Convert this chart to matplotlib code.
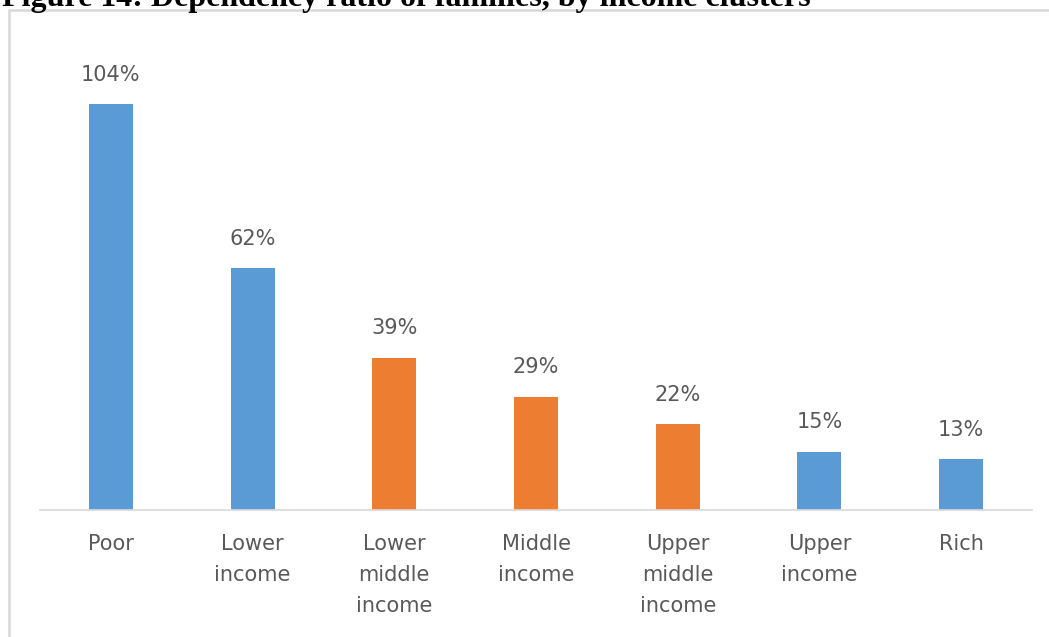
import matplotlib
matplotlib.use("Agg")
import matplotlib.pyplot as plt
from matplotlib.patches import Rectangle

categories = ["Poor", "Lower\nincome", "Lower\nmiddle\nincome", "Middle\nincome",
              "Upper\nmiddle\nincome", "Upper\nincome", "Rich"]
values = [104, 62, 39, 29, 22, 15, 13]
bar_colors = ["#5B9BD5", "#5B9BD5", "#ED7D31", "#ED7D31", "#ED7D31", "#5B9BD5", "#5B9BD5"]
title = "Figure 14: Dependency ratio of families, by income clusters"

W, H = 1049, 637
fig = plt.figure(figsize=(W / 100, H / 100), dpi=100)

# outer frame (top and left visible)
fig.add_artist(Rectangle((9 / W, -0.1), 1.2, (H - 10) / H + 0.1, transform=fig.transFigure,
                         fill=False, edgecolor="#d9d9d9", linewidth=1.8))

fig.text(2 / W, (H - 6) / H, title, fontsize=23, fontweight="bold",
         family="Liberation Serif", va="baseline", ha="left", color="black")

base_y = 510
top_y = 40
ax = fig.add_axes([40 / W, (H - base_y) / H, 992 / W, (base_y - top_y) / H])
x = list(range(len(categories)))
ax.bar(x, values, width=0.31, color=bar_colors, zorder=2)
ax.set_xlim(-0.5, len(categories) - 0.5)
ax.set_ylim(0, (base_y - top_y) / 3.9)
for xi, v in zip(x, values):
    ax.annotate(f"{v}%", (xi, v), xytext=(0, 14), textcoords="offset points",
                ha="center", va="bottom", fontsize=15, color="#595959")
ax.set_xticks(x)
ax.set_xticklabels(categories, fontsize=15, color="#595959", linespacing=1.7)
ax.tick_params(axis="x", length=0, pad=17)
ax.set_yticks([])
for s in ["top", "right", "left"]:
    ax.spines[s].set_visible(False)
ax.spines["bottom"].set_color("#d9d9d9")
ax.spines["bottom"].set_linewidth(1.2)
ax.patch.set_alpha(0)

fig.savefig("out.png", dpi=100)
